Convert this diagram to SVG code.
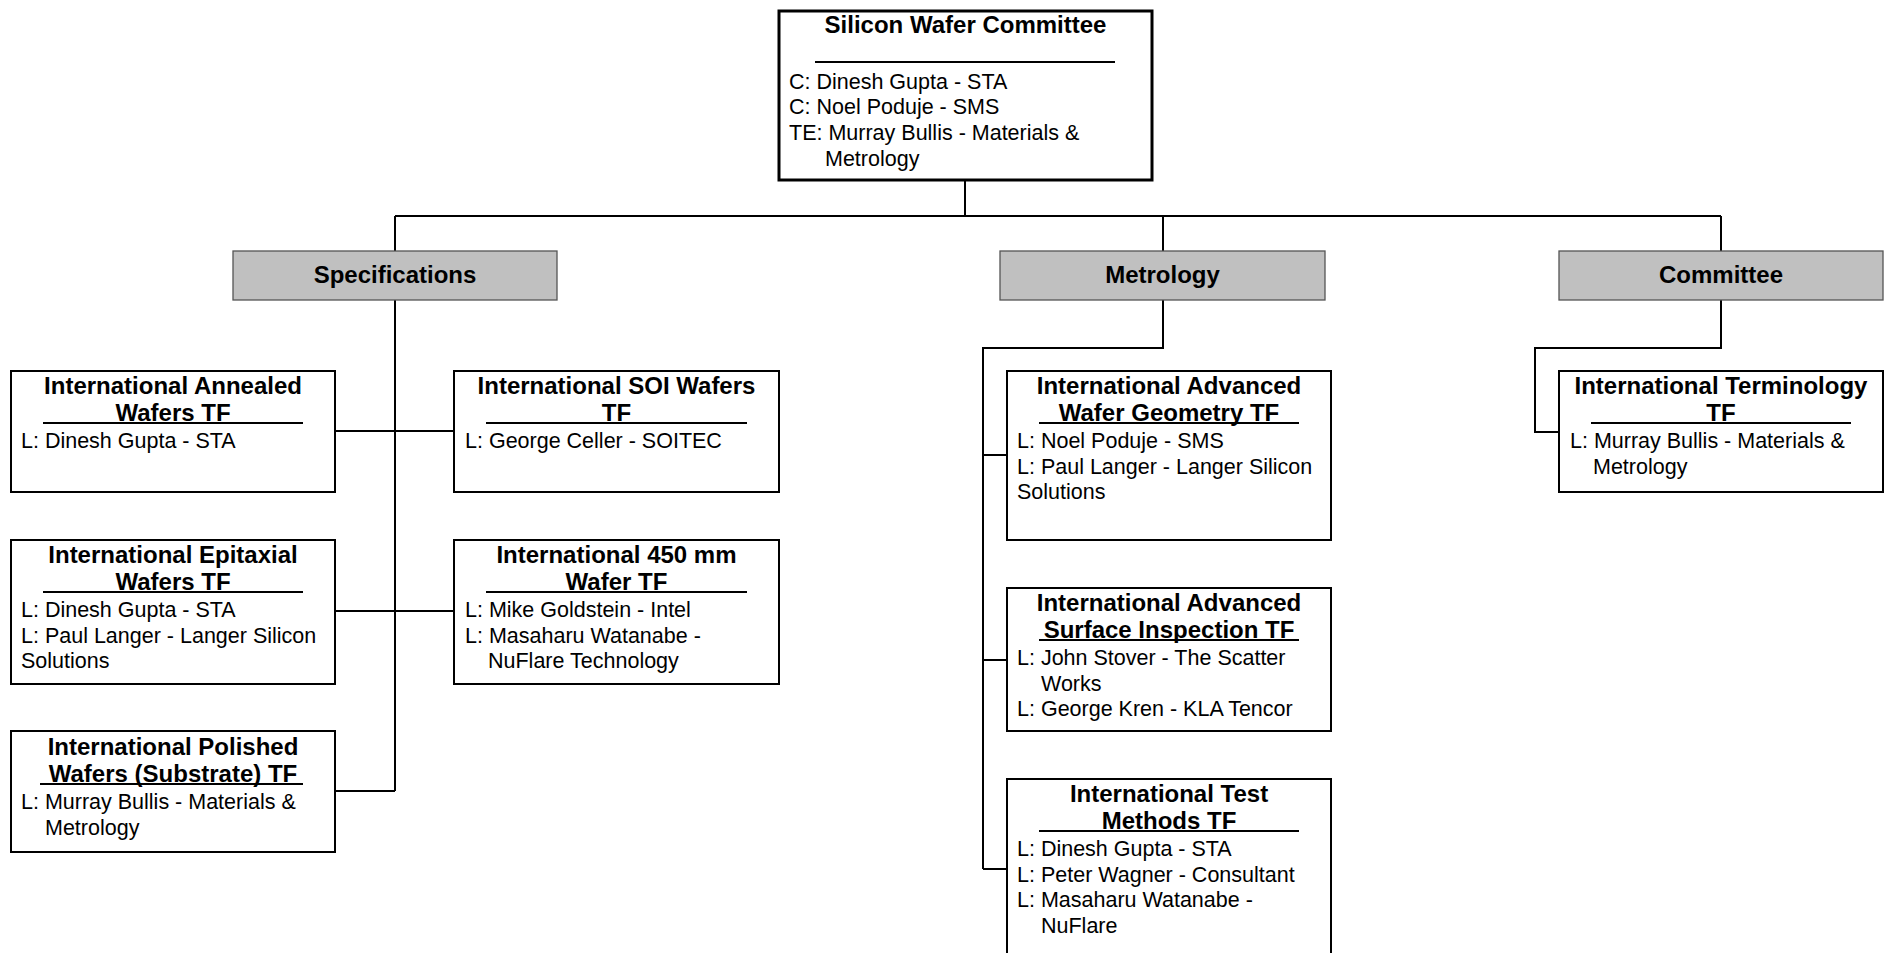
<svg xmlns="http://www.w3.org/2000/svg" width="1885" height="953" viewBox="0 0 1885 953">
<style>
.box{fill:#fff;stroke:#000;stroke-width:2}
.top{fill:#fff;stroke:#000;stroke-width:3}
.cat{fill:#c0c0c0;stroke:#555;stroke-width:1.3}
.t{font-family:"Liberation Sans",Arial,sans-serif;font-size:24px;font-weight:bold;text-anchor:middle;fill:#000}
.b{font-family:"Liberation Sans",Arial,sans-serif;font-size:21.5px;fill:#000}
.ul{stroke:#000;stroke-width:2}
.conn{fill:none;stroke:#000;stroke-width:2}
</style>
<rect width="1885" height="953" fill="#fff"/>
<g id="connectors">
<path class="conn" d="M965,180V216M395,216H1721M395,216V251M1163,216V251M1721,216V251"/>
<path class="conn" d="M395,300V791M335,431H454M335,611H454M335,791H395"/>
<path class="conn" d="M1163,300V348H983V869M983,455H1007M983,660H1007M983,869H1007"/>
<path class="conn" d="M1721,300V348H1535V432H1559"/>
</g>
<g id="silicon-wafer-committee">
<rect class="top" x="779" y="11" width="373" height="169"/>
<text class="t" x="965.5" y="33">Silicon Wafer Committee</text>
<line class="ul" x1="815" y1="62" x2="1115" y2="62"/>
<text class="b" x="789" y="89">C: Dinesh Gupta - STA</text>
<text class="b" x="789" y="113.5">C: Noel Poduje - SMS</text>
<text class="b" x="789" y="139.5">TE: Murray Bullis - Materials &amp;</text>
<text class="b" x="825" y="166">Metrology</text>
</g>
<g id="specifications">
<rect class="cat" x="233" y="251" width="324" height="49"/>
<text class="t" x="395" y="283">Specifications</text>
</g>
<g id="metrology">
<rect class="cat" x="1000" y="251" width="325" height="49"/>
<text class="t" x="1162.5" y="283">Metrology</text>
</g>
<g id="committee">
<rect class="cat" x="1559" y="251" width="324" height="49"/>
<text class="t" x="1721" y="283">Committee</text>
</g>
<g id="annealed">
<rect class="box" x="11" y="371" width="324" height="121"/>
<text class="t" x="173" y="394">International Annealed</text>
<text class="t" x="173" y="421">Wafers TF</text>
<line class="ul" x1="43" y1="423" x2="303" y2="423"/>
<text class="b" x="21" y="448">L: Dinesh Gupta - STA</text>
</g>
<g id="soi">
<rect class="box" x="454" y="371" width="325" height="121"/>
<text class="t" x="616.5" y="394">International SOI Wafers</text>
<text class="t" x="616.5" y="421">TF</text>
<line class="ul" x1="486" y1="423" x2="747" y2="423"/>
<text class="b" x="465" y="448">L: George Celler - SOITEC</text>
</g>
<g id="epitaxial">
<rect class="box" x="11" y="540" width="324" height="144"/>
<text class="t" x="173" y="563">International Epitaxial</text>
<text class="t" x="173" y="590">Wafers TF</text>
<line class="ul" x1="43" y1="592" x2="303" y2="592"/>
<text class="b" x="21" y="617">L: Dinesh Gupta - STA</text>
<text class="b" x="21" y="642.5">L: Paul Langer - Langer Silicon</text>
<text class="b" x="21" y="668">Solutions</text>
</g>
<g id="wafer450">
<rect class="box" x="454" y="540" width="325" height="144"/>
<text class="t" x="616.5" y="563">International 450 mm</text>
<text class="t" x="616.5" y="590">Wafer TF</text>
<line class="ul" x1="486" y1="592" x2="747" y2="592"/>
<text class="b" x="465" y="617">L: Mike Goldstein - Intel</text>
<text class="b" x="465" y="642.5">L: Masaharu Watanabe -</text>
<text class="b" x="488" y="668">NuFlare Technology</text>
</g>
<g id="polished">
<rect class="box" x="11" y="731" width="324" height="121"/>
<text class="t" x="173" y="755">International Polished</text>
<text class="t" x="173" y="782">Wafers (Substrate) TF</text>
<line class="ul" x1="40" y1="784" x2="303" y2="784"/>
<text class="b" x="21" y="809">L: Murray Bullis - Materials &amp;</text>
<text class="b" x="45" y="834.5">Metrology</text>
</g>
<g id="geometry">
<rect class="box" x="1007" y="371" width="324" height="169"/>
<text class="t" x="1169" y="394">International Advanced</text>
<text class="t" x="1169" y="421">Wafer Geometry TF</text>
<line class="ul" x1="1039" y1="423" x2="1299" y2="423"/>
<text class="b" x="1017" y="448">L: Noel Poduje - SMS</text>
<text class="b" x="1017" y="473.5">L: Paul Langer - Langer Silicon</text>
<text class="b" x="1017" y="499">Solutions</text>
</g>
<g id="surface">
<rect class="box" x="1007" y="588" width="324" height="143"/>
<text class="t" x="1169" y="611">International Advanced</text>
<text class="t" x="1169" y="638">Surface Inspection TF</text>
<line class="ul" x1="1039" y1="640" x2="1299" y2="640"/>
<text class="b" x="1017" y="665">L: John Stover - The Scatter</text>
<text class="b" x="1041" y="690.5">Works</text>
<text class="b" x="1017" y="716">L: George Kren - KLA Tencor</text>
</g>
<g id="testmethods">
<rect class="box" x="1007" y="779" width="324" height="190"/>
<text class="t" x="1169" y="802">International Test</text>
<text class="t" x="1169" y="829">Methods TF</text>
<line class="ul" x1="1039" y1="831" x2="1299" y2="831"/>
<text class="b" x="1017" y="856">L: Dinesh Gupta - STA</text>
<text class="b" x="1017" y="881.5">L: Peter Wagner - Consultant</text>
<text class="b" x="1017" y="907">L: Masaharu Watanabe -</text>
<text class="b" x="1041" y="932.5">NuFlare</text>
</g>
<g id="terminology">
<rect class="box" x="1559" y="371" width="324" height="121"/>
<text class="t" x="1721" y="394">International Terminology</text>
<text class="t" x="1721" y="421">TF</text>
<line class="ul" x1="1591" y1="423" x2="1851" y2="423"/>
<text class="b" x="1570" y="448">L: Murray Bullis - Materials &amp;</text>
<text class="b" x="1593" y="473.5">Metrology</text>
</g>
</svg>
